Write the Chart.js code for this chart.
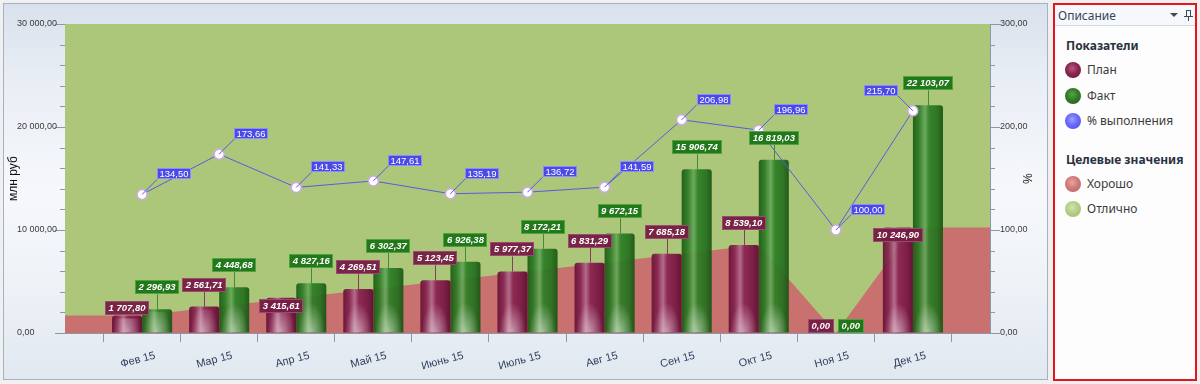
<!DOCTYPE html>
<html><head><meta charset="utf-8">
<script src="https://cdn.jsdelivr.net/npm/chart.js@4.4.1/dist/chart.umd.min.js"></script>
<style>
html,body{margin:0;padding:0;width:1200px;height:384px;overflow:hidden;background:#f0f0f0;font-family:"Noto Sans",sans-serif;}
#panel{position:absolute;left:3px;top:3px;width:1043px;height:375px;border:1px solid #a5b2c4;
 background:linear-gradient(180deg,#d9e1ec 0%,#e9eef5 20%,#f6f8fb 50%,#eef2f7 75%,#e1e8f0 100%);}
#wrap{position:absolute;left:0;top:0;width:1048px;height:381px;}
#legend{position:absolute;left:1053px;top:3px;width:140px;height:374px;border:2px solid #e8141c;background:#fdfdfd;}
.hdr{position:absolute;left:0;top:0;width:140px;height:20px;border-bottom:1px solid #d3d9e2;background:#f7f8fb;}
.hdr .t{position:absolute;left:3px;top:2px;font-size:12px;color:#34455e;}
.arr{position:absolute;left:115px;top:8px;width:0;height:0;border-left:4px solid transparent;border-right:4px solid transparent;border-top:4px solid #3c4a5e;}
.pin1{position:absolute;left:131px;top:5px;width:3px;height:6px;border:1px solid #3c4a5e;border-bottom:none;}
.pin2{position:absolute;left:129px;top:11px;width:9px;height:1px;background:#3c4a5e;}
.pin3{position:absolute;left:133px;top:12px;width:1px;height:4px;background:#3c4a5e;}
.sec{position:absolute;left:11px;font-size:12px;font-weight:bold;color:#2a3242;line-height:16px;}
.it{position:absolute;left:32px;font-size:12px;color:#3c3c3c;line-height:16px;}
.dot{position:absolute;left:10px;width:16px;height:16px;border-radius:50%;}
</style></head>
<body>
<div id="panel"></div>
<div id="wrap"><canvas id="cv"></canvas></div>
<div id="legend">
  <div class="hdr"><span class="t">Описание</span><span class="arr"></span><span class="pin1"></span><span class="pin2"></span><span class="pin3"></span></div>
  <div class="sec" style="top:33px">Показатели</div>
  <div class="dot" style="top:57px;background:radial-gradient(circle at 45% 40%,#b8587f 0%,#8a2452 45%,#6a1238 100%)"></div>
  <div class="it" style="top:57px">План</div>
  <div class="dot" style="top:83px;background:radial-gradient(circle at 45% 40%,#5aa04e 0%,#2f7d27 45%,#1d5a17 100%)"></div>
  <div class="it" style="top:83px">Факт</div>
  <div class="dot" style="top:108px;background:radial-gradient(circle at 45% 40%,#a0a0ff 0%,#6868ff 45%,#4a4ae0 100%)"></div>
  <div class="it" style="top:108px">% выполнения</div>
  <div class="sec" style="top:147px">Целевые значения</div>
  <div class="dot" style="top:171px;background:radial-gradient(circle at 45% 40%,#e9a4a4 0%,#d07a7a 45%,#b86060 100%)"></div>
  <div class="it" style="top:171px">Хорошо</div>
  <div class="dot" style="top:196px;background:radial-gradient(circle at 45% 40%,#d4e3b0 0%,#b6cd84 45%,#9cb66a 100%)"></div>
  <div class="it" style="top:196px">Отлично</div>
</div>
<script>
// ---- data ----
const months = ['', 'Фев 15', 'Мар 15', 'Апр 15', 'Май 15', 'Июнь 15', 'Июль 15', 'Авг 15', 'Сен 15', 'Окт 15', 'Ноя 15', 'Дек 15', ''];
const planValues = [null, 1707.80, 2561.71, 3415.61, 4269.51, 5123.45, 5977.37, 6831.29, 7685.18, 8539.10, 0, 10246.90, null];
const factValues = [null, 2296.93, 4448.68, 4827.16, 6302.37, 6926.38, 8172.21, 9672.15, 15906.74, 16819.03, 0, 22103.07, null];
const pctValues = [null, 134.50, 173.66, 141.33, 147.61, 135.19, 136.72, 141.59, 206.98, 196.96, 100.00, 215.70, null];
const goodTarget = [1707.80, 1707.80, 2561.71, 3415.61, 4269.51, 5123.45, 5977.37, 6831.29, 7685.18, 8539.10, 0, 10246.90, 10246.90];
const excellentTarget = [30000, 30000, 30000, 30000, 30000, 30000, 30000, 30000, 30000, 30000, 30000, 30000, 30000];
const leftAxisRange = [0, 30000];
const rightAxisRange = [0, 300];

// ---- label placement (style) ----
const planLabelLift = [0, 0, 15, -15, 15, 15, 15, 15, 15, 15, 0, -15, 0];
const factLabelLift = [0, 15, 15, 15, 15, 15, 15, 15, 15, 15, 0, 15, 0];
const pctLabelSide = ['', 'r', 'r', 'r', 'r', 'r', 'r', 'r', 'r', 'r', 'r', 'l', ''];

function fmt(v){
  const s = Math.abs(v).toFixed(2);
  let [i, d] = s.split('.');
  i = i.replace(/\B(?=(\d{3})+(?!\d))/g, ' ');
  return (v < 0 ? '-' : '') + i + ',' + d;
}

const AX = '#8a98ab';

const barStyle = {
  id: 'barStyle',
  beforeDatasetsDraw(chart){
    const ctx = chart.ctx;
    [0, 1].forEach(di => {
      const meta = chart.getDatasetMeta(di);
      const stops = di === 0
        ? [[0,'rgba(100,16,52,0.92)'],[0.2,'rgba(134,36,80,0.92)'],[0.38,'rgba(178,108,142,0.92)'],[0.52,'rgba(136,36,82,0.92)'],[0.8,'rgba(118,24,68,0.92)'],[1,'rgba(92,12,46,0.92)']]
        : [[0,'rgba(26,88,20,0.92)'],[0.2,'rgba(42,122,34,0.92)'],[0.4,'rgba(104,168,92,0.92)'],[0.54,'rgba(44,126,36,0.92)'],[0.8,'rgba(36,112,30,0.92)'],[1,'rgba(24,82,18,0.92)']];
      meta.data.forEach(el => {
        if (el.x == null || isNaN(el.x)) return;
        const g = ctx.createLinearGradient(el.x - el.width/2, 0, el.x + el.width/2, 0);
        stops.forEach(s => g.addColorStop(s[0], s[1]));
        el.options = Object.assign({}, el.options, {backgroundColor: g});
      });
    });
  },
  afterDatasetDraw(chart, args){
    if (args.index > 1) return;
    const ctx = chart.ctx;
    args.meta.data.forEach(el => {
      if (el.x == null || isNaN(el.y) || el.base - el.y < 2) return;
      const w = el.width, h = el.base - el.y;
      ctx.save();
      ctx.beginPath(); ctx.rect(el.x - w/2, el.y + 3, w, h - 3); ctx.clip();
      ctx.translate(el.x, el.base); ctx.scale(1, 2.2);
      const g = ctx.createRadialGradient(0, 0, 0, 0, 0, w*0.45);
      g.addColorStop(0, 'rgba(255,255,255,0.5)');
      g.addColorStop(1, 'rgba(255,255,255,0)');
      ctx.fillStyle = g;
      ctx.fillRect(-w/2, -h, w, h);
      ctx.restore();
    });
  }
};

const axisDecor = {
  id: 'axisDecor',
  afterDraw(chart){
    const ctx = chart.ctx, y = chart.scales.y, y2 = chart.scales.y2;
    ctx.save(); ctx.strokeStyle = AX; ctx.lineWidth = 1;
    for (let v = leftAxisRange[0]; v <= leftAxisRange[1]; v += 2000){
      if (v % 10000 === 0) continue;
      const p = Math.round(y.getPixelForValue(v)) + 0.5;
      ctx.beginPath(); ctx.moveTo(y.right - 5, p); ctx.lineTo(y.right, p); ctx.stroke();
    }
    for (let v = rightAxisRange[0]; v <= rightAxisRange[1]; v += 20){
      if (v % 100 === 0) continue;
      const p = Math.round(y2.getPixelForValue(v)) + 0.5;
      ctx.beginPath(); ctx.moveTo(y2.left, p); ctx.lineTo(y2.left + 5, p); ctx.stroke();
    }
    ctx.restore();
  }
};

function box(ctx, x, y, w, h, bg, border){
  ctx.fillStyle = bg; ctx.fillRect(x, y, w, h);
  ctx.strokeStyle = border; ctx.lineWidth = 1;
  ctx.strokeRect(Math.round(x) + 0.5, Math.round(y) + 0.5, Math.round(w) - 1, Math.round(h) - 1);
}

const valueLabels = {
  id: 'valueLabels',
  afterDatasetsDraw(chart){
    const ctx = chart.ctx;
    ctx.save();
    const conf = [
      {di: 0, vals: planValues, lift: planLabelLift, bg: 'rgba(118,28,66,0.95)', bd: '#9a4a70', lead: '#8a3c5e'},
      {di: 1, vals: factValues, lift: factLabelLift, bg: 'rgba(30,118,24,0.97)', bd: '#4da43f', lead: '#3f8c32'}
    ];
    conf.forEach(c => {
      const meta = chart.getDatasetMeta(c.di);
      meta.data.forEach((el, i) => {
        const v = c.vals[i];
        if (v == null) return;
        ctx.font = 'italic bold 9.5px "Liberation Sans"';
        const txt = fmt(v);
        const w = Math.ceil(ctx.measureText(txt).width) + 7, h = 14;
        const top = el.y;
        const bottom = top - c.lift[i];
        if (c.lift[i] > 0){
          ctx.strokeStyle = c.lead; ctx.lineWidth = 1;
          ctx.beginPath(); ctx.moveTo(Math.round(el.x) + 0.5, top); ctx.lineTo(Math.round(el.x) + 0.5, bottom); ctx.stroke();
        }
        const bx = Math.round(el.x - w/2), by = Math.round(bottom - h);
        box(ctx, bx, by, w, h, c.bg, c.bd);
        ctx.fillStyle = '#ffffff'; ctx.textAlign = 'center'; ctx.textBaseline = 'middle';
        ctx.fillText(txt, el.x, by + h/2 + 0.5);
      });
    });
    const pm = chart.getDatasetMeta(2);
    pm.data.forEach((pt, i) => {
      const v = pctValues[i];
      if (v == null) return;
      ctx.font = '9.5px "Liberation Sans"';
      const txt = fmt(v);
      const w = Math.ceil(ctx.measureText(txt).width) + 4, h = 11;
      const right = pctLabelSide[i] === 'r';
      const cx = right ? pt.x + 15 : pt.x - 15;
      const cy = pt.y - 15;
      ctx.strokeStyle = '#5858e0'; ctx.lineWidth = 1;
      ctx.beginPath(); ctx.moveTo(pt.x, pt.y); ctx.lineTo(cx, cy); ctx.stroke();
      const bx = Math.round(right ? cx : cx - w), by = Math.round(cy - h);
      box(ctx, bx, by, w, h, '#4a4ae8', '#8c8cff');
      ctx.fillStyle = '#ffffff'; ctx.textAlign = 'center'; ctx.textBaseline = 'middle';
      ctx.fillText(txt, bx + w/2, by + h/2 + 0.5);
    });
    ctx.restore();
  }
};

const titleFont = {family: 'Liberation Sans', size: 12};
const tickFont = {family: 'Liberation Sans', size: 9};

new Chart(document.getElementById('cv'), {
  type: 'bar',
  data: {
    labels: months,
    datasets: [
      {type: 'bar', label: 'План', data: planValues, yAxisID: 'y', backgroundColor: () => '#7d1b47',
       borderRadius: {topLeft: 3, topRight: 3, bottomLeft: 0, bottomRight: 0}, borderSkipped: 'bottom',
       categoryPercentage: 0.78, barPercentage: 1, order: 2},
      {type: 'bar', label: 'Факт', data: factValues, yAxisID: 'y', backgroundColor: () => '#2a7a1e',
       borderRadius: {topLeft: 3, topRight: 3, bottomLeft: 0, bottomRight: 0}, borderSkipped: 'bottom',
       categoryPercentage: 0.78, barPercentage: 1, order: 2},
      {type: 'line', label: '% выполнения', data: pctValues, yAxisID: 'y2', borderColor: '#5a5ae2', borderWidth: 1,
       pointRadius: 5, pointBackgroundColor: '#ffffff', pointBorderColor: '#cfa9e8', pointBorderWidth: 1.5,
       tension: 0, fill: false, order: 0},
      {type: 'line', label: 'Хорошо', data: goodTarget, yAxisID: 'y', fill: 'origin', backgroundColor: 'rgb(201,113,111)',
       borderWidth: 0, borderColor: 'rgba(0,0,0,0)', pointRadius: 0, tension: 0, order: 4},
      {type: 'line', label: 'Отлично', data: excellentTarget, yAxisID: 'y', fill: 'origin', backgroundColor: 'rgb(173,199,122)',
       borderWidth: 0, borderColor: 'rgba(0,0,0,0)', pointRadius: 0, tension: 0, order: 5}
    ]
  },
  options: {
    responsive: true, maintainAspectRatio: false, animation: false,
    layout: {padding: {left: 17, top: 24, right: 0, bottom: 0}},
    plugins: {legend: {display: false}, tooltip: {enabled: false}},
    scales: {
      x: {
        type: 'category', offset: false,
        grid: {color: 'rgba(255,255,255,0.22)', tickColor: AX, tickLength: 9, drawOnChartArea: true},
        border: {color: AX},
        ticks: {autoSkip: false, maxRotation: 15, minRotation: 15, labelOffset: 13, padding: 7, color: '#2e3f5c',
                font: {family: 'Liberation Sans', size: 11}},
        afterFit(s){ s.height = 48; }
      },
      y: {
        position: 'left', min: leftAxisRange[0], max: leftAxisRange[1],
        ticks: {stepSize: 10000, crossAlign: 'far', padding: 0, color: '#3a3a3a', font: tickFont, callback: v => fmt(v)},
        grid: {drawOnChartArea: false, tickLength: 10, tickColor: AX},
        border: {color: AX},
        title: {display: true, text: 'млн руб', color: '#111', font: titleFont, padding: {top: -11, bottom: 0}},
        afterFit(s){ s.width = 48; }
      },
      y2: {
        position: 'right', min: rightAxisRange[0], max: rightAxisRange[1],
        ticks: {stepSize: 100, padding: 0, color: '#3a3a3a', font: tickFont, callback: v => fmt(v)},
        grid: {drawOnChartArea: false, tickLength: 10, tickColor: AX},
        border: {color: AX},
        title: {display: true, text: '%', color: '#111', font: titleFont, padding: {top: 14, bottom: 0}},
        afterFit(s){ s.width = 58; }
      }
    }
  },
  plugins: [barStyle, axisDecor, valueLabels]
});
</script>
</body></html>
